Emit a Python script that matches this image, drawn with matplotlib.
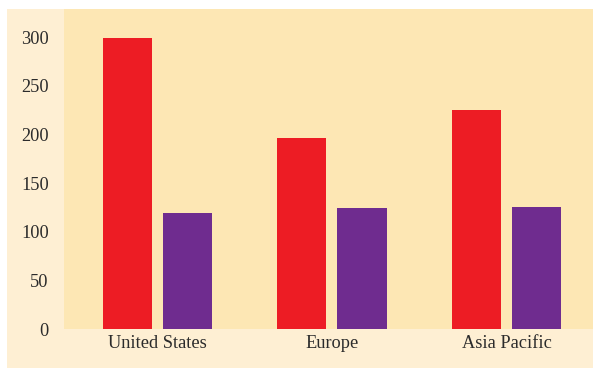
import matplotlib.pyplot as plt
import numpy as np
from matplotlib.patches import Rectangle

# values
regions = ['United States', 'Europe', 'Asia Pacific']
series_a = [299, 196, 225]
series_b = [119, 124, 125]
yticks = [0, 50, 100, 150, 200, 250, 300]

plt.rcParams['font.family'] = ['Liberation Serif', 'DejaVu Serif']

fig = plt.figure(figsize=(5.93, 3.68), dpi=100)
fig.patch.set_facecolor('white')
fig.patches.append(Rectangle((7 / 593, 0), 1 - 7 / 593, 359 / 368,
                             transform=fig.transFigure, facecolor='#feefd3',
                             edgecolor='none', zorder=-1))

ax = fig.add_axes([64 / 593, 39 / 368, 529 / 593, 320 / 368])
ax.set_zorder(1)
ax.set_facecolor('#fde7b4')

x = np.arange(len(regions))
w = 0.281
off = 0.172
ax.bar(x - off, series_a, width=w, color='#ed1c24')
ax.bar(x + off, series_b, width=w, color='#6f2c8f')

ax.set_xlim(-0.536, 2.496)
ax.set_ylim(0, 329)
ax.set_xticks(x)
ax.set_xticklabels(regions)
ax.set_yticks(yticks)
ax.tick_params(length=0, labelsize=13.2, colors='#2b2b2b')
ax.tick_params(axis='y', pad=11)
ax.tick_params(axis='x', pad=4)
for s in ax.spines.values():
    s.set_visible(False)

fig.savefig('out.png', dpi=100)
